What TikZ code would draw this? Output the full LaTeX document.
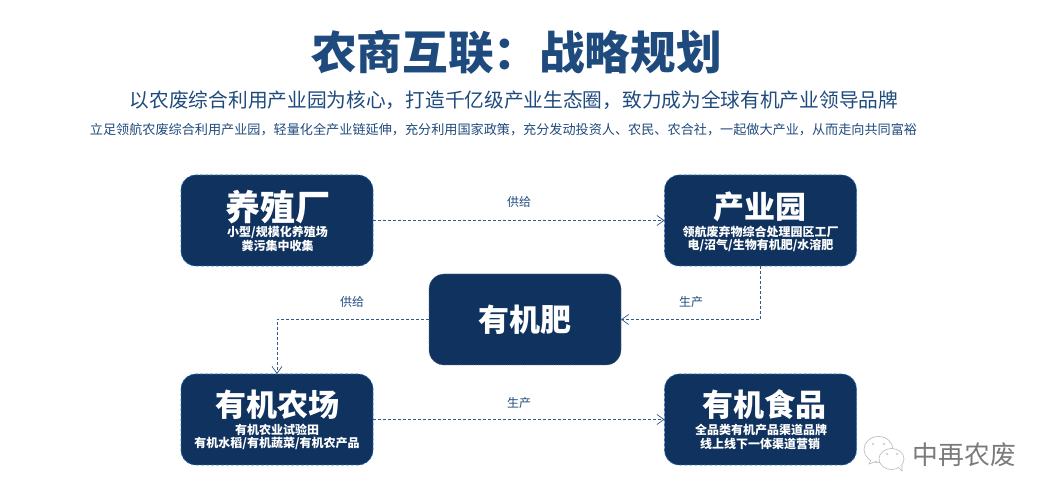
\documentclass[tikz,border=0pt]{standalone}
\usepackage{fontspec}
\setmainfont{Noto Sans CJK SC}
\usetikzlibrary{arrows.meta,calc}
\definecolor{boxfill}{HTML}{10325F}
\definecolor{boxedge}{HTML}{2E75B6}
\definecolor{linkc}{HTML}{2F5A8C}
\definecolor{titlec}{HTML}{1F4A7D}
\definecolor{subc}{HTML}{1F4A7D}
\definecolor{wmc}{HTML}{7A7A7A}
\newcommand{\fs}[1]{\fontsize{#1}{#1}\selectfont}
\tikzset{
  x=1pt,y=-1pt,
  cardbox/.style={draw=boxedge,fill=boxfill,densely dashed,line width=0.7pt,rounded corners=15pt,
    minimum width=192pt,minimum height=91pt,inner sep=0pt,outer sep=0pt,text=white,align=center},
  midcard/.style={cardbox,draw=boxfill!70!white,densely dotted},
  headt/.style={inner sep=0pt,text=white,font=\fs{31}\bfseries},
  dett/.style={inner sep=0pt,text=white,font=\fs{12}\bfseries},
  link/.style={draw=linkc,densely dashed,line width=0.7pt,-{Straight Barb[length=7pt,width=10pt,line width=0.7pt]}},
  linklabel/.style={text=subc,font=\fs{12},inner sep=0pt},
  bubble/.style={draw=gray!55,line width=0.6pt,fill=white},
}
\begin{document}
\begin{tikzpicture}
\useasboundingbox (0,0) rectangle (1050,502);
\node[inner sep=0pt,text=titlec,font=\fs{45.6}\bfseries] (title) at (516.5,52) {农商互联：战略规划};
\node[inner sep=0pt,text=subc,font=\fs{19.7}] (sub) at (514,100) {以农废综合利用产业园为核心，打造千亿级产业生态圈，致力成为全球有机产业领导品牌};
\node[inner sep=0pt,text=subc,font=\fs{13.13}] (lead) at (503.5,130) {立足领航农废综合利用产业园，轻量化全产业链延伸，充分利用国家政策，充分发动投资人、农民、农合社，一起做大产业，从而走向共同富裕};

\node[cardbox] (farm) at (277,220.5) {};
\node[cardbox] (park) at (760.5,220.5) {};
\node[midcard,font=\fs{31}\bfseries] (fert) at (525,319.5) {有机肥};
\node[cardbox] (organic) at (277,419.5) {};
\node[cardbox] (food) at (760.5,419.5) {};

\node[headt,font=\fs{35}\bfseries] (farmh) at (277.5,207) {养殖厂};
\node[dett] (farma) at (277.5,232) {小型/规模化养殖场};
\node[dett] (farmb) at (277.5,246) {粪污集中收集};
\node[headt] (parkh) at (760,206.5) {产业园};
\node[dett] (parka) at (760.5,231.5) {领航废弃物综合处理园区工厂};
\node[dett] (parkb) at (760.5,245) {电/沼气/生物有机肥/水溶肥};
\node[headt] (orgh) at (277,405) {有机农场};
\node[dett] (orga) at (277,430) {有机农业试验田};
\node[dett] (orgb) at (277,443.5) {有机水稻/有机蔬菜/有机农产品};
\node[headt] (foodh) at (764.5,405) {有机食品};
\node[dett] (fooda) at (761,429.5) {全品类有机产品渠道品牌};
\node[dett] (foodb) at (760,443.5) {线上线下一体渠道营销};

\draw[link] (farm.east) -- (park.west);
\draw[link] (park.south) |- (fert.east);
\draw[link] (fert.west) -| (organic.north);
\draw[link] (organic.east) -- (food.west);

\node[linklabel] (l1) at (519,202) {供给};
\node[linklabel] (l2) at (691,302) {生产};
\node[linklabel] (l3) at (352,302) {供给};
\node[linklabel] (l4) at (519,403) {生产};

% watermark
\path[bubble] (878.5,449.5) ellipse (14.5 and 13);
\path[bubble] (871,460) -- (869,464) -- (877,461);
\path[bubble] (891.5,459) ellipse (12.5 and 10.5);
\path[bubble] (898,467) -- (902,471) -- (902,465);
\foreach \p in {(873,444),(884,444),(887,454),(897,454)} \fill[gray!70] \p circle (0.9);
\node[inner sep=0pt,text=wmc,font=\fs{25.8}] (wm) at (964.5,455) {中再农废};
\end{tikzpicture}
\end{document}
